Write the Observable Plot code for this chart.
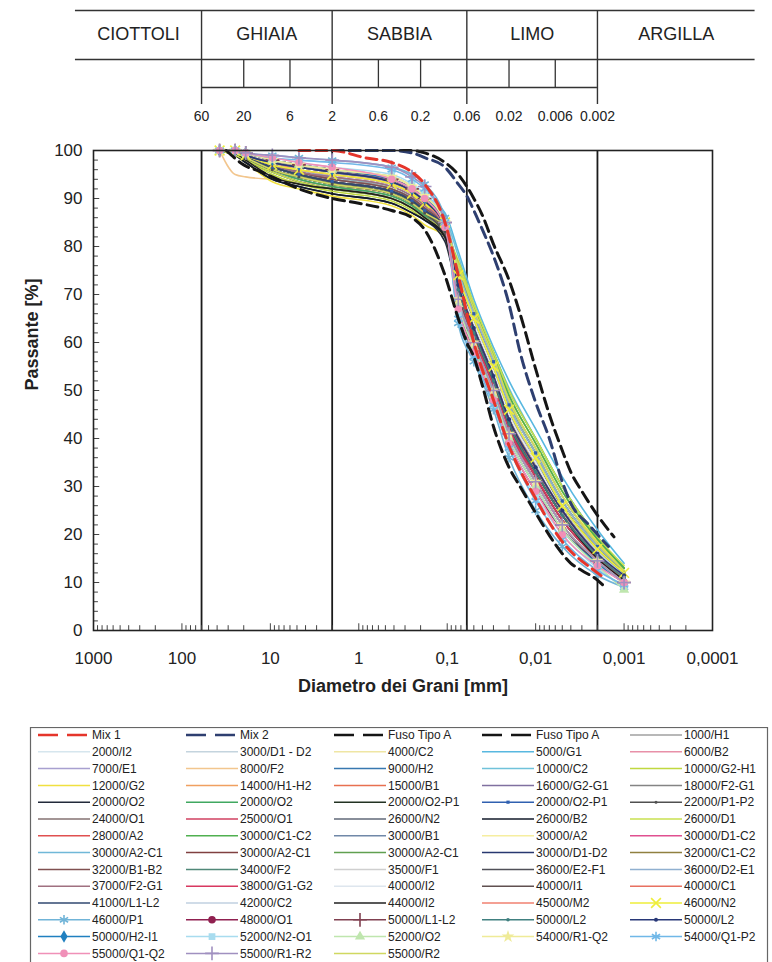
<!DOCTYPE html>
<html><head><meta charset="utf-8">
<script src="https://cdn.jsdelivr.net/npm/d3@7"></script>
<script src="https://cdn.jsdelivr.net/npm/@observablehq/plot@0.6"></script>
<style>
body{margin:0;background:#fff;font-family:"Liberation Sans",Arial,sans-serif;}
#chart svg{display:block}
#legend{margin-top:17px}
</style></head><body><div id="chart"></div><div id="legend"></div>
<script>
// ---- classification table ----
const classNames = ["CIOTTOLI","GHIAIA","SABBIA","LIMO","ARGILLA"];
const classBounds = [60, 2, 0.06, 0.002];
const tableEdges = [1600, 0.000033];
const scaleTicks = [60, 20, 6, 2, 0.6, 0.2, 0.06, 0.02, 0.006, 0.002];
const scaleLabels = ["60","20","6","2","0.6","0.2","0.06","0.02","0.006","0.002"];

// ---- axes ----
const xTickValues = [1000, 100, 10, 1, 0.1, 0.01, 0.001, 0.0001];
const xTickLabels = ["1000","100","10","1","0,1","0,01","0,001","0,0001"];
const yTickValues = [0,10,20,30,40,50,60,70,80,90,100];

// ---- envelopes ----
const mix1D = [4.75, 2, 0.85, 0.425, 0.25, 0.18, 0.106, 0.075, 0.05, 0.03, 0.02, 0.01, 0.005, 0.002, 0.0017];
const mix1P = [100, 100, 98.5, 97.5, 95.5, 93, 85, 74, 60, 48, 38.5, 27.5, 18.5, 12, 11];
const mix2D = [2, 0.425, 0.25, 0.18, 0.106, 0.075, 0.06, 0.05, 0.04, 0.03, 0.02, 0.015, 0.01, 0.007, 0.005, 0.004, 0.0025, 0.0015];
const mix2P = [100, 100, 99.5, 98.5, 96.5, 93, 90.5, 87.5, 83.5, 78, 68, 58, 47.5, 40, 31, 26.5, 22, 17.5];
const fusoLowD = [31.5, 20, 12.5, 9.5, 4.75, 2, 1, 0.425, 0.25, 0.18, 0.106, 0.075, 0.06, 0.05, 0.04, 0.03, 0.02, 0.015, 0.01, 0.006, 0.004, 0.003, 0.002, 0.0017];
const fusoLowP = [100, 97, 95.5, 94.5, 92, 90, 89, 87.5, 86, 83.5, 74, 65, 60, 57, 51, 42.5, 34, 30, 24.5, 18, 14, 12.5, 10.5, 9.3];
const fusoUpD = [2, 0.425, 0.25, 0.18, 0.106, 0.075, 0.06, 0.05, 0.04, 0.03, 0.02, 0.015, 0.01, 0.007, 0.005, 0.004, 0.003, 0.002, 0.0013];
const fusoUpP = [100, 100, 100, 99.5, 97.5, 95, 92.5, 90, 86.5, 80.5, 73, 66, 54.5, 45, 37.5, 33, 29, 24, 19.5];

// ---- samples ----
const diam = [37.5, 25, 19, 9.5, 4.75, 2, 0.425, 0.25, 0.18, 0.106, 0.075, 0.05, 0.03, 0.02, 0.01, 0.005, 0.002, 0.001];
const sampleNames = ["1000/H1","2000/I2","3000/D1 - D2","4000/C2","5000/G1","6000/B2","7000/E1","8000/F2","9000/H2","10000/C2","10000/G2-H1","12000/G2","14000/H1-H2","15000/B1","16000/G2-G1","18000/F2-G1","20000/O2","20000/O2","20000/O2-P1","20000/O2-P1","22000/P1-P2","24000/O1","25000/O1","26000/N2","26000/B2","26000/D1","28000/A2","30000/C1-C2","30000/B1","30000/A2","30000/D1-C2","30000/A2-C1","30000/A2-C1","30000/A2-C1","30000/D1-D2","32000/C1-C2","32000/B1-B2","34000/F2","35000/F1","36000/E2-F1","36000/D2-E1","37000/F2-G1","38000/G1-G2","40000/I2","40000/I1","40000/C1","41000/L1-L2","42000/C2","44000/I2","45000/M2","46000/N2","46000/P1","48000/O1","50000/L1-L2","50000/L2","50000/L2","50000/H2-I1","52000/N2-O1","52000/O2","54000/R1-Q2","54000/Q1-P2","55000/Q1-Q2","55000/R1-R2","55000/R2"];
const sampleColors = ["#a0a0a0","#d6e6ee","#c4d4de","#efe6a4","#58b8e0","#e890a8","#a8a0d0","#f2c68e","#3878b0","#70c2da","#c0d840","#f0e040","#f0a060","#e87050","#8070a0","#848484","#222a3a","#40a860","#223222","#3060b0","#505050","#857272","#d04060","#606878","#121a2a","#c8e050","#e05050","#50b050","#7088a8","#f6eea0","#e05090","#70b8d8","#804040","#60a050","#283870","#908040","#805050","#508878","#cfcfcf","#505058","#90b0d0","#a07080","#d83860","#dee6ee","#605050","#e87060","#304870","#c0d0e0","#202020","#f08070","#eeee3a","#70b4d8","#902050","#804050","#408080","#283878","#2080c0","#a8dcef","#bfe6ae","#efeb98","#70b8e8","#f090b8","#a090c0","#d0d860"];
const p01 = [100,100,99,97,96,94.5, 92,90,88, 84,72,63, 53,44,33, 24,15.5,11];
const p02 = [100,100,99.5,98,97,96, 94,92,90, 85,73,64, 54,45,35, 26,17,12];
const p03 = [100,99.5,99,97.5,96,95, 93,91,89, 84,71,62, 52,43,32, 23,15,10.5];
const p04 = [100,100,99,97,95.5,94, 92,90,88, 84,74,66, 57,49,39, 29,19,13];
const p05 = [100,100,99.5,98,97,95.5, 94,92,90.5, 87,79,69, 59,52,42, 32,21,14];
const p06 = [100,100,99.5,98,97,96, 94.5,92.5,90.5, 85,70,61, 50,41,31, 22,14.5,10];
const p07 = [100,99.5,98.5,96.5,95,93.5, 91.5,89.5,87.5, 83,72,64, 55,46,35, 26,17,12];
const p08 = [100,95,94.5,94,93.5,92.5, 91,89,87, 83,71,62, 52,43,33, 24,16,11];
const p09 = [100,100,99,97,95.5,94, 92,90,88, 85,75,67, 57,48,38, 28,18,12.5];
const p10 = [100,100,99,97.5,96,94.5, 92.5,90.5,89, 86,78,68, 58,50.5,40, 30,19.5,13];
const p11 = [100,99,98,95,93,91.5, 89.5,87.5,85.5, 83,77,68, 57,49,39, 29,19,13];
const p12 = [100,99,97.5,93.5,92,90.5, 88.5,86.5,84.5, 82,76,67, 56,48,38, 28,18.5,12.5];
const p13 = [100,100,99,97,95.5,94, 92,90,88, 84,73,64, 54,45,34, 25,16,11];
const p14 = [100,100,99,97.5,96,95, 93,91,89, 84,72,63, 53,44,33, 24,15.5,11];
const p15 = [100,99.5,98.5,96,94.5,93, 91,89,87, 83,72,64, 54,45,35, 25,16,11];
const p16 = [100,99.5,98.5,96,94,92.5, 90.5,88.5,86.5, 82,71,62, 52,43,33, 24,15,10.5];
const p17 = [100,99,97.5,94,92.5,91, 89,87,85.5, 81,70,62, 52,43,33, 24,15.5,11];
const p18 = [100,99.5,98.5,96,94,92.5, 90.5,88.5,86.5, 84,76,67, 58,50,40, 30,19.5,13];
const p19 = [100,99,98,95.5,93.5,92, 90,88,86, 82,69,60, 50,41,31, 22,14,10];
const p20 = [100,99.5,98.5,96.5,95,93.5, 91.5,89.5,87.5, 84,74,66, 56,47,37, 27,17.5,12];
const p21 = [100,99.5,98.5,96,94.5,93, 91,89,87, 83,72,63, 53,44,34, 25,16,11];
const p22 = [100,99.5,98.5,96.5,95,93.5, 91.5,89.5,87.5, 83,71,62, 52,43,33, 24,15,10.5];
const p23 = [100,100,99,97.5,96,95, 93,91,89, 84,72,63, 53,44,34, 25,16,11];
const p24 = [100,99.5,98.5,96,94.5,93, 91,89,87, 83,72,64, 54,45,35, 26,17,11.5];
const p25 = [100,99,97.5,94,92.5,91, 89,87,85.5, 82,71,63, 53,44,34, 25,16,11];
const p26 = [100,99,98,95.5,93.5,92, 90,88,86, 83,76,68, 58,50,40, 30,19.5,13.5];
const p27 = [100,100,99,97.5,96.5,95.5, 93.5,91.5,89.5, 84,71,62, 52,43,32, 23,15,10.5];
const p28 = [100,99.5,98.5,96,94.5,93, 91,89,87, 84,75,67, 57,49,39, 29,19,13];
const p29 = [100,100,99,97,95.5,94, 92,90,88, 84,73,64, 54,45,35, 25,16,11];
const p30 = [100,100,99,97.5,96,95, 93,91,89, 85,74,66, 56,47,37, 27,17,12];
const p31 = [100,100,99.5,98,97,96, 94,92,90, 85,71,62, 51,42,31, 22,14.5,10];
const p32 = [100,100,99,97.5,96,95, 93,91,89, 85,74,65, 55,46,36, 26,16.5,11.5];
const p33 = [100,99.5,98.5,96.5,95,93.5, 91.5,89.5,87.5, 83,71,62, 52,43,33, 24,15.5,11];
const p34 = [100,99.5,98.5,96,94.5,93, 91,89,87, 83,73,65, 55,47,37, 27,17.5,12];
const p35 = [100,99.5,98.5,96.5,95,93.5, 91.5,89.5,87.5, 84,73,64, 54,45,35, 25,16,11];
const p36 = [100,99.5,98.5,96,94.5,93, 91,89,87, 83,72,64, 54,45,35, 25,16,11];
const p37 = [100,100,99,97,95.5,94, 92,90,88, 84,71,62, 52,43,32, 23,15,10.5];
const p38 = [100,99.5,98.5,96.5,95,93.5, 91.5,89.5,87.5, 83,72,63, 53,44,34, 25,16,11];
const p39 = [100,100,99,97.5,96,95, 93,91,89, 85,73,64, 54,45,35, 25,16,11];
const p40 = [100,99.5,98.5,96,94.5,93, 91,89,87, 82,70,61, 51,42,32, 23,15,10.5];
const p41 = [100,100,99,97.5,96,95, 93,91,89.5, 86,75,66, 56,47,37, 27,17.5,12];
const p42 = [100,100,99,97,95.5,94.5, 92.5,90.5,88.5, 84,71,62, 52,43,33, 24,15.5,11];
const p43 = [100,100,99.5,98,97,96, 94,92,90, 85,71,61, 51,42,32, 23,15,10.5];
const p44 = [100,100,99.5,98,97,96, 94,92,90, 85,73,64, 54,45,35, 25,16,11];
const p45 = [100,99.5,98.5,96.5,95,93.5, 91.5,89.5,87.5, 83,72,63, 53,44,34, 25,16,11];
const p46 = [100,100,99,97.5,96.5,95.5, 93.5,91.5,89.5, 84,72,62, 52,43,33, 24,15,10.5];
const p47 = [100,99.5,98.5,96.5,95,93.5, 91.5,89.5,87.5, 84,73,65, 55,46,36, 26,17,12];
const p48 = [100,100,99,97.5,96,95, 93,91,89, 85,74,65, 55,46,36, 26,16.5,11.5];
const p49 = [100,99.5,98,94.5,93,92, 90,88,86, 82,71,62, 52,43,33, 24,15,10.5];
const p50 = [100,100,99,97.5,96,95, 93,91,89, 84,72,63, 53,44,34, 25,16,11];
const p51 = [100,100,99,97,96,95, 93,91,89, 85,74,65, 55,46,36, 26,17,12];
const p52 = [100,100,99.5,99,98.5,98, 96.5,95,93, 86,64,56, 46,36,25, 17.5,11.5,9];
const p53 = [100,100,99.5,98,97,96, 94,92,90, 85,68,58, 48,39,29, 21,14,10];
const p54 = [100,100,99.5,98,97,96, 94,92,90, 85,69,60, 50,41,31, 22,14.5,10];
const p55 = [100,100,99,97.5,96.5,95.5, 93.5,91.5,89.5, 84,71,62, 52,43,33, 24,15.5,11];
const p56 = [100,100,99,97.5,96.5,95.5, 93.5,91.5,89.5, 84,72,63, 53,44,34, 25,16,11.5];
const p57 = [100,100,99.5,98,97,96, 94,92,90, 85,68,59, 49,40,30, 21,14,10];
const p58 = [100,100,99.5,98.5,97.5,96.5, 95,93,91, 85,66,57, 47,38,28, 20,13,9];
const p59 = [100,100,99.5,98,97,96, 94.5,92.5,90.5, 85,68,59, 49,40,30, 21,13.5,8.5];
const p60 = [100,100,99.5,98,97,96, 94.5,92.5,90.5, 85,69,60, 50,41,31, 22,14.5,10];
const p61 = [100,100,99.5,98.5,98,97.5, 96,94,92, 85,65,57, 47,38,27, 19,12.5,9.5];
const p62 = [100,100,99.5,98.5,97.5,96.5, 94,92,90, 84,67,58, 48,39,29, 20,13.5,10];
const p63 = [100,100,99.5,99,98.5,98, 96.5,94.5,92.5, 85,69,60, 50,41,31, 22,14.5,10];
const p64 = [100,99.5,98.5,96,94.5,93, 91,89,87, 84,76,67, 57,48,38, 28,18,12.5];
const samplePassing = [p01,p02,p03,p04,p05,p06,p07,p08,p09,p10,p11,p12,p13,p14,p15,p16,p17,p18,p19,p20,p21,p22,p23,p24,p25,p26,p27,p28,p29,p30,p31,p32,p33,p34,p35,p36,p37,p38,p39,p40,p41,p42,p43,p44,p45,p46,p47,p48,p49,p50,p51,p52,p53,p54,p55,p56,p57,p58,p59,p60,p61,p62,p63,p64];

// ---- marker styles (by sample index) ----
const markerStyle = {
  19: {symbol:"square", r:1.8, filled:true},
  20: {symbol:"circle", r:1.5, filled:true},
  50: {symbol:"times", r:4.5, filled:false},
  51: {symbol:"asterisk", r:4.5, filled:false},
  52: {symbol:"circle", r:3.8, filled:true},
  53: {symbol:"plus", r:4.5, filled:false},
  54: {symbol:"circle", r:1.8, filled:true},
  55: {symbol:"circle", r:2, filled:true},
  56: {symbol:"diamond", r:3.8, filled:true},
  57: {symbol:"square", r:3.8, filled:true},
  58: {symbol:"triangle", r:3.8, filled:true},
  59: {symbol:"star", r:4, filled:true},
  60: {symbol:"asterisk", r:4.5, filled:false},
  61: {symbol:"circle", r:3.8, filled:true},
  62: {symbol:"plus", r:4.5, filled:false}
};

const FONT = '"Liberation Sans", Arial, sans-serif';
const xRange = [93, 712];

// ---------- top classification table ----------
const edges = [tableEdges[0], ...classBounds, tableEdges[1]];
const classCenters = classNames.map((_, i) => Math.sqrt(edges[i] * edges[i + 1]));
const subTicks = scaleTicks.filter(t => !classBounds.includes(t));

const topPlot = Plot.plot({
  width: 772, height: 135, margin: 0,
  x: {type: "log", domain: [1000, 0.0001], range: xRange, axis: null},
  y: {domain: [0, 135], range: [0, 135], axis: null},
  style: {fontFamily: FONT, color: "#222", background: "white"},
  marks: [
    Plot.ruleY([10, 59], {y: d => d, x1: tableEdges[0], x2: tableEdges[1], stroke: "#333", strokeWidth: 1.4}),
    Plot.ruleX(classBounds, {x: d => d, y1: 10, y2: 104, stroke: "#333", strokeWidth: 1.4}),
    Plot.ruleX(subTicks, {x: d => d, y1: 59, y2: 87, stroke: "#333", strokeWidth: 1.3}),
    Plot.ruleY([87], {y: d => d, x1: classBounds[0], x2: classBounds[classBounds.length - 1], stroke: "#333", strokeWidth: 1.3}),
    Plot.text(classNames, {x: (d, i) => classCenters[i], y: 34, text: d => d, fontSize: 18, fill: "#222"}),
    Plot.text(scaleTicks, {x: d => d, y: 116, text: (d, i) => scaleLabels[i], fontSize: 14, fill: "#222"})
  ]
});

// ---------- main chart ----------
const sampleRows = [];
samplePassing.forEach((arr, s) => arr.forEach((p, j) => sampleRows.push({s, d: diam[j], p})));
const rowsOf = (D, P) => D.map((d, i) => ({d, p: P[i]}));

const xMinor = [];
for (let k = -4; k <= 2; k++) for (let m = 2; m <= 9; m++) xMinor.push(+(m * Math.pow(10, k)).toPrecision(3));
const yMinor = d3.range(0, 101, 2).filter(v => v % 10 !== 0);

const dotMarks = Object.entries(markerStyle).map(([k, st]) => {
  const s = +k;
  const data = sampleRows.filter(r => r.s === s);
  const col = sampleColors[s];
  return Plot.dot(data, {
    x: "d", y: "p", symbol: st.symbol, r: st.r,
    fill: st.filled ? col : "none", stroke: st.filled ? "none" : col,
    strokeWidth: 1.6
  });
});

const mainPlot = Plot.plot({
  width: 772, height: 575,
  marginTop: 15, marginBottom: 80, marginLeft: 93, marginRight: 60,
  x: {type: "log", domain: [1000, 0.0001]},
  y: {domain: [0, 100]},
  color: {type: "identity"},
  style: {fontFamily: FONT, fontSize: "17px", color: "#222", background: "white"},
  marks: [
    Plot.ruleX(classBounds, {x: d => d, stroke: "#1a1a1a", strokeWidth: 1.8}),
    Plot.ruleX(xMinor, {x: d => d, y1: 0, y2: 1, stroke: "#444", strokeWidth: 1}),
    Plot.ruleX(xTickValues, {x: d => d, y1: 0, y2: 1.4, stroke: "#444", strokeWidth: 1}),
    Plot.ruleY(yMinor, {y: d => d, x1: 1000, x2: 880, stroke: "#444", strokeWidth: 1}),
    Plot.ruleY(yTickValues, {y: d => d, x1: 1000, x2: 850, stroke: "#444", strokeWidth: 1}),
    Plot.line(sampleRows, {x: "d", y: "p", z: "s", stroke: r => sampleColors[r.s], strokeWidth: 1.6, curve: "monotone-x"}),
    ...dotMarks,
    Plot.line(rowsOf(fusoLowD, fusoLowP), {x: "d", y: "p", stroke: "#151515", strokeWidth: 3, strokeDasharray: "11,6", curve: "monotone-x"}),
    Plot.line(rowsOf(fusoUpD, fusoUpP), {x: "d", y: "p", stroke: "#151515", strokeWidth: 3, strokeDasharray: "11,6", curve: "monotone-x"}),
    Plot.line(rowsOf(mix2D, mix2P), {x: "d", y: "p", stroke: "#2e3f70", strokeWidth: 3, strokeDasharray: "11,6", curve: "monotone-x"}),
    Plot.line(rowsOf(mix1D, mix1P), {x: "d", y: "p", stroke: "#e5352b", strokeWidth: 3, strokeDasharray: "11,6", curve: "monotone-x"}),
    Plot.frame({stroke: "#222", strokeWidth: 1.6}),
    Plot.axisX(xTickValues, {anchor: "bottom", tickSize: 0, tickPadding: 21, fontSize: 17, label: null,
      tickFormat: d => xTickLabels[xTickValues.indexOf(d)]}),
    Plot.axisY(yTickValues, {anchor: "left", tickSize: 0, tickPadding: 11, fontSize: 17, label: null}),
    Plot.text(["Diametro dei Grani [mm]"], {frameAnchor: "bottom", dy: 61, fontWeight: "bold", fontSize: 18, fill: "#222"}),
    Plot.text(["Passante [%]"], {frameAnchor: "left", dx: -61, rotate: -90, fontWeight: "bold", fontSize: 18, fill: "#222"})
  ]
});

document.getElementById("chart").append(topPlot, mainPlot);

// ---------- legend ----------
const legendEntries = [
  {name: "Mix 1", color: "#e5352b", dash: true},
  {name: "Mix 2", color: "#2e3f70", dash: true},
  {name: "Fuso Tipo A", color: "#151515", dash: true},
  {name: "Fuso Tipo A", color: "#151515", dash: true},
  ...sampleNames.map((n, i) => ({name: n, color: sampleColors[i], dash: false, marker: markerStyle[i]}))
];
const symMap = {circle: d3.symbolCircle, square: d3.symbolSquare, diamond: d3.symbolDiamond, triangle: d3.symbolTriangle,
  star: d3.symbolStar, plus: d3.symbolPlus, times: d3.symbolTimes, asterisk: d3.symbolAsterisk};
const lg = d3.create("svg").attr("width", 772).attr("height", 250).style("display", "block")
  .style("font-family", FONT).style("font-size", "12px");
lg.append("rect").attr("x", 30.5).attr("y", 0.5).attr("width", 737).attr("height", 248)
  .attr("fill", "none").attr("stroke", "#666").attr("stroke-width", 1.2);
legendEntries.forEach((e, i) => {
  const col = i % 5, row = Math.floor(i / 5);
  const cx = 30 + 148 * col, cy = 8 + 16.8 * row;
  const g = lg.append("g").attr("transform", `translate(${cx},${cy})`);
  g.append("line").attr("x1", 8).attr("x2", 60).attr("y1", 0).attr("y2", 0)
    .attr("stroke", e.color).attr("stroke-width", e.dash ? 2.6 : 1.5)
    .attr("stroke-dasharray", e.dash ? "20,9" : null);
  if (e.marker) {
    const st = e.marker;
    g.append("path").attr("transform", "translate(34,0)")
      .attr("d", d3.symbol(symMap[st.symbol], st.r * st.r * Math.PI)())
      .attr("fill", st.filled ? e.color : "none").attr("stroke", st.filled ? "none" : e.color).attr("stroke-width", 1.6);
  }
  g.append("text").attr("x", 62).attr("y", 0).attr("dy", "0.35em").attr("fill", "#222").text(e.name);
});
document.getElementById("legend").append(lg.node());
</script></body></html>
